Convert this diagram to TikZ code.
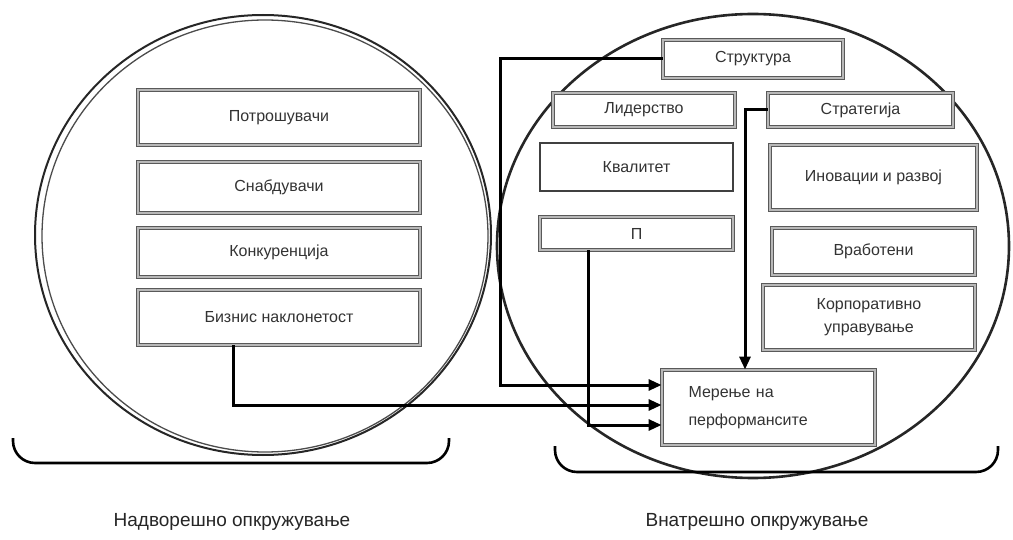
\documentclass[tikz,border=0pt]{standalone}
\usepackage{fontspec}
\setmainfont{Liberation Sans}
\usetikzlibrary{arrows.meta}
\begin{document}
\begin{tikzpicture}[x=1pt,y=-1pt,
  box/.style={draw=black!65, line width=0.9pt, double=black!28, double distance=2pt,
    fill=white, inner sep=2pt, font=\fontsize{16}{19}\selectfont, text=black!80, align=center},
  plainbox/.style={box, double=none, draw=black!75, line width=1.4pt},
  arr/.style={line width=3pt, -{Triangle[length=13pt,width=11pt]}},
  circ/.style={line width=2pt, black!85},
  brace/.style={line width=2.6pt, rounded corners=22pt},
  lab/.style={font=\fontsize{19}{22}\selectfont, text=black!85}]
\useasboundingbox (0,0) rectangle (1013,540);
\fill[white] (0,0) rectangle (1013,540);
% circles
\draw[circ] (263,235) ellipse [x radius=228, y radius=220];
\draw[line width=1.3pt, black!70] (265,236) ellipse [x radius=223, y radius=216];
\draw[circ, line width=2.6pt] (753,246) ellipse [x radius=256, y radius=232];
% braces
\draw[brace] (13,438) -- (13,463) -- (449,463) -- (449,438);
\draw[brace] (555,446) -- (555,472) -- (998,472) -- (998,446);
% left boxes
\node[box, minimum width=282, minimum height=55] (pot) at (279,117.5) {Потрошувачи};
\node[box, minimum width=282, minimum height=51] (snab) at (279,187.5) {Снабдувачи};
\node[box, minimum width=282, minimum height=49] (konk) at (279,252.5) {Конкуренција};
\node[box, minimum width=282, minimum height=55] (biz) at (279,317.5) {Бизнис наклонетост};
% right boxes
\node[box, minimum width=180, minimum height=38] (str) at (753,59) {Структура};
\node[box, minimum width=182, minimum height=34] (lid) at (644,110) {Лидерство};
\node[box, minimum width=185, minimum height=34] (strat) at (860.5,110) {Стратегија};
\node[plainbox, minimum width=193, minimum height=48] (kval) at (636.5,167) {Квалитет};
\node[box, minimum width=207, minimum height=65] (ino) at (873.5,177.5) {Иновации и развој};
\node[box, minimum width=193, minimum height=33] (it) at (636.5,233.5) {П};
\node[box, minimum width=203, minimum height=47] (vrab) at (873.5,251.5) {Вработени};
\node[box, minimum width=212, minimum height=65, font=\fontsize{16}{23}\selectfont] (korp) at (869,317.5) {Корпоративно\\управување};
\node[box, minimum width=213, minimum height=75, align=left, text width=160pt,
  font=\fontsize{16}{28}\selectfont] (mer) at (768.5,407.5) {Мерење на\\перформансите};
% connectors
\coordinate (cl) at (500,200);
\draw[arr] (str.west) -| (cl) |- ([yshift=22.5pt]mer.west);
\draw[arr] ([xshift=-46pt]biz.south) |- ([yshift=2.5pt]mer.west);
\draw[arr] ([xshift=-48.5pt]it.south) |- ([yshift=-17.5pt]mer.west);
\draw[arr] (strat.west) -| ([xshift=-23.5pt]mer.north);
% labels
\node[lab] (ext) at (232,522) {Надворешно опкружување};
\node[lab] (int) at (757,522) {Внатрешно опкружување};
\end{tikzpicture}
\end{document}
